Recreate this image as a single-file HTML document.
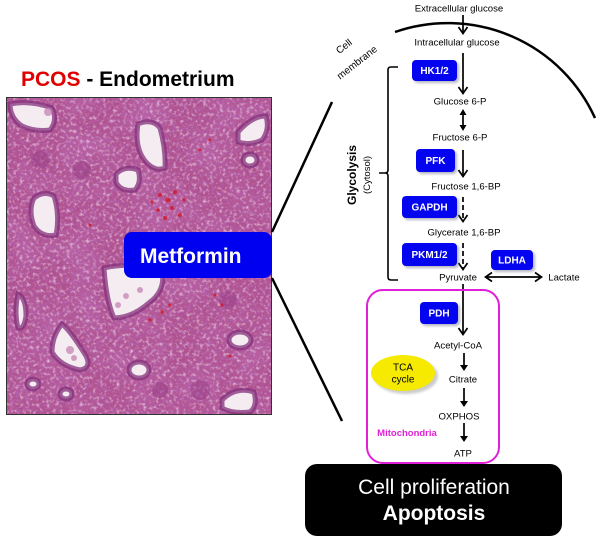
<!DOCTYPE html>
<html>
<head>
<meta charset="utf-8">
<style>
  html,body{margin:0;padding:0;background:#fff;}
  svg{display:block;}
  text{font-family:"Liberation Sans", Arial, sans-serif;}
</style>
</head>
<body>
<svg width="600" height="540" viewBox="0 0 600 540" xmlns="http://www.w3.org/2000/svg">
  <defs>
    <filter id="lite" x="0" y="0" width="100%" height="100%">
      <feTurbulence type="fractalNoise" baseFrequency="0.3" numOctaves="2" seed="7"/>
      <feColorMatrix type="matrix" values="0 0 0 0 0.96  0 0 0 0 0.84  0 0 0 0 0.94  1.8 0 0 0 -0.9"/>
    </filter>
    <filter id="dark" x="0" y="0" width="100%" height="100%">
      <feTurbulence type="fractalNoise" baseFrequency="0.26" numOctaves="2" seed="19"/>
      <feColorMatrix type="matrix" values="0 0 0 0 0.45  0 0 0 0 0.12  0 0 0 0 0.45  0 1.9 0 0 -0.82"/>
    </filter>
    <filter id="blot" x="0" y="0" width="100%" height="100%">
      <feTurbulence type="fractalNoise" baseFrequency="0.03" numOctaves="2" seed="4"/>
      <feColorMatrix type="matrix" values="0 0 0 0 0.55  0 0 0 0 0.2  0 0 0 0 0.55  1.6 0 0 0 -0.6"/>
    </filter>
    <filter id="sh" x="-20%" y="-20%" width="140%" height="140%">
      <feGaussianBlur stdDeviation="1.2"/>
    </filter>
    <clipPath id="imgclip"><rect x="6" y="97" width="266" height="318"/></clipPath>
  </defs>

  <!-- Title -->
  <text x="21" y="86" font-size="21" font-weight="bold"><tspan fill="#e00000">PCOS</tspan><tspan fill="#000"> - Endometrium</tspan></text>

  <!-- Histology image -->
  <g clip-path="url(#imgclip)">
    <rect x="6" y="97" width="266" height="318" fill="#b0528f"/>
    <rect x="6" y="97" width="266" height="318" filter="url(#blot)" opacity="0.5"/>
    <rect x="6" y="97" width="266" height="318" filter="url(#dark)"/>
    <rect x="6" y="97" width="266" height="318" filter="url(#lite)"/>
    <g fill="#f5ecf2" stroke="#83307a" stroke-width="5" stroke-opacity="0.75">
      <path d="M10,104 Q30,100 52,108 Q58,120 50,130 Q35,132 22,126 Q10,118 10,104 Z"/>
      <path d="M138,124 Q152,118 160,128 Q166,150 165,168 Q155,172 146,162 Q134,148 138,124 Z"/>
      <path d="M116,174 Q125,165 138,170 Q142,182 135,190 Q120,192 116,182 Z"/>
      <path d="M238,132 Q252,116 266,116 Q270,130 262,140 Q250,146 238,142 Z"/>
      <path d="M34,198 Q44,190 54,196 Q60,215 56,235 Q42,238 34,226 Q28,210 34,198 Z"/>
      <path d="M104,268 Q130,262 162,270 Q166,290 150,302 Q132,318 114,318 Q106,300 104,268 Z"/>
      <path d="M62,324 Q70,330 86,356 Q92,368 80,370 Q60,366 52,352 Q52,336 62,324 Z"/>
      <path d="M18,294 Q26,298 26,316 Q24,330 18,328 Q14,312 18,294 Z"/>
      <ellipse cx="139" cy="370" rx="10" ry="8"/>
      <ellipse cx="240" cy="340" rx="11" ry="8"/>
      <path d="M222,400 Q236,386 254,392 Q258,406 250,412 Q232,414 222,408 Z"/>
      <ellipse cx="33" cy="384" rx="6" ry="5"/>
      <ellipse cx="66" cy="394" rx="6" ry="5"/>
      <ellipse cx="250" cy="160" rx="7" ry="6"/>
    </g>
    <g fill="#9a3f88" opacity="0.55">
      <circle cx="40" cy="160" r="9"/>
      <circle cx="82" cy="170" r="9"/>
      <circle cx="200" cy="390" r="10"/>
      <circle cx="160" cy="390" r="8"/>
      <circle cx="228" cy="300" r="9"/>
    </g>
    <!-- inner shreds -->
    <g fill="#c98ab8" opacity="0.8">
      <circle cx="48" cy="112" r="4"/>
      <circle cx="126" cy="296" r="3"/>
      <circle cx="118" cy="305" r="3"/>
      <circle cx="140" cy="290" r="3"/>
      <circle cx="70" cy="350" r="4"/>
      <circle cx="74" cy="358" r="3"/>
    </g>
    <!-- red speckles -->
    <g fill="#d21a2a" opacity="0.85">
      <circle cx="160" cy="195" r="2"/><circle cx="168" cy="200" r="2.5"/><circle cx="175" cy="192" r="2"/>
      <circle cx="172" cy="208" r="2"/><circle cx="180" cy="215" r="2"/><circle cx="158" cy="210" r="1.8"/>
      <circle cx="165" cy="218" r="2"/><circle cx="184" cy="200" r="1.6"/><circle cx="152" cy="202" r="1.6"/>
      <circle cx="150" cy="320" r="1.8"/><circle cx="162" cy="312" r="1.8"/><circle cx="170" cy="305" r="1.6"/>
      <circle cx="215" cy="295" r="1.5"/><circle cx="222" cy="305" r="1.5"/><circle cx="230" cy="356" r="1.5"/>
      <circle cx="200" cy="150" r="1.5"/><circle cx="210" cy="140" r="1.5"/><circle cx="90" cy="225" r="1.5"/>
    </g>
  </g>
  <rect x="6.5" y="97.5" width="265" height="317" fill="none" stroke="#333" stroke-width="1"/>

  <!-- connecting lines -->
  <line x1="272" y1="232" x2="332" y2="102" stroke="#000" stroke-width="2.5"/>
  <line x1="272" y1="278" x2="342" y2="421" stroke="#000" stroke-width="2.5"/>

  <!-- Metformin box -->
  <rect x="124" y="232" width="148" height="46" rx="8" fill="#0000f0"/>
  <text x="140" y="263" font-size="21" font-weight="bold" fill="#fff">Metformin</text>

  <!-- Cell membrane arc -->
  <path d="M395,32 A161.6,161.6 0 0 1 595,118" fill="none" stroke="#000" stroke-width="2.5"/>
  <text transform="translate(346,49) rotate(-38)" font-size="10" text-anchor="middle" fill="#000">Cell</text>
  <text transform="translate(359,65) rotate(-38)" font-size="10" text-anchor="middle" fill="#000">membrane</text>

  <!-- Bracket -->
  <path d="M398,67 L391,67 Q388,67 388,70 L388,170 Q388,173 385,173 L379,173 M385,173 Q388,173 388,176 L388,277 Q388,280 391,280 L398,280" fill="none" stroke="#000" stroke-width="1.6"/>
  <text transform="translate(356,175) rotate(-90)" font-size="12" font-weight="bold" text-anchor="middle" fill="#000">Glycolysis</text>
  <text transform="translate(370,175) rotate(-90)" font-size="9.5" text-anchor="middle" fill="#000">(Cytosol)</text>

  <!-- pathway labels -->
  <g font-size="9.6" fill="#000" text-anchor="middle">
    <text x="459" y="11.5">Extracellular  glucose</text>
    <text x="457" y="45.5">Intracellular  glucose</text>
    <text x="460" y="104.5">Glucose  6-P</text>
    <text x="460" y="140.5">Fructose  6-P</text>
    <text x="466" y="189.5">Fructose  1,6-BP</text>
    <text x="464" y="235.5">Glycerate  1,6-BP</text>
    <text x="458" y="280.5">Pyruvate</text>
    <text x="564" y="280.5">Lactate</text>
    <text x="458" y="348.5">Acetyl-CoA</text>
    <text x="463" y="382.5">Citrate</text>
    <text x="459" y="419.5">OXPHOS</text>
    <text x="463" y="456.5">ATP</text>
  </g>

  <!-- arrows -->
  <g stroke="#000" stroke-width="1.7" fill="none">
    <line x1="463" y1="15" x2="463" y2="33"/>
    <polyline points="458.5,27 463,33.5 467.5,27"/>
    <line x1="463" y1="53" x2="463" y2="93"/>
    <polyline points="458.5,87 463,93.5 467.5,87"/>
    <line x1="463" y1="113" x2="463" y2="128"/>
    <line x1="463" y1="150" x2="463" y2="176"/>
    <polyline points="458.5,170 463,176.5 467.5,170"/>
    <line x1="463" y1="197" x2="463" y2="221" stroke-dasharray="5,3"/>
    <polyline points="458.5,215 463,221.5 467.5,215"/>
    <line x1="463" y1="243" x2="463" y2="269" stroke-dasharray="5,3"/>
    <polyline points="458.5,263 463,269.5 467.5,263"/>
    <line x1="463" y1="284" x2="463" y2="334"/>
    <polyline points="458.5,328 463,334.5 467.5,328"/>
    <line x1="486" y1="277" x2="541" y2="277"/>
    <polyline points="492,272.5 485.5,277 492,281.5"/>
    <polyline points="535,272.5 541.5,277 535,281.5"/>
    <line x1="464" y1="353" x2="464" y2="366"/>
    <line x1="464" y1="388" x2="464" y2="402"/>
    <line x1="464" y1="423" x2="464" y2="437"/>
  </g>
  <g fill="#000">
    <polygon points="459.5,115 463,109 466.5,115"/>
    <polygon points="459.5,125 463,131 466.5,125"/>
    <polygon points="460,365 464,371 468,365"/>
    <polygon points="460,401 464,407 468,401"/>
    <polygon points="460,436 464,442 468,436"/>
  </g>

  <!-- enzyme boxes -->
  <g fill="#7a7a90" opacity="0.55" filter="url(#sh)">
    <rect x="414" y="62" width="45" height="21" rx="4"/>
    <rect x="418" y="151" width="39" height="23" rx="4"/>
    <rect x="404" y="198" width="55" height="22" rx="4"/>
    <rect x="404" y="245" width="55" height="23" rx="4"/>
    <rect x="493" y="252" width="42" height="20" rx="4"/>
    <rect x="422" y="304" width="38" height="22" rx="4"/>
  </g>
  <g fill="#0404f0">
    <rect x="412" y="60" width="45" height="21" rx="4"/>
    <rect x="416" y="149" width="39" height="23" rx="4"/>
    <rect x="402" y="196" width="55" height="22" rx="4"/>
    <rect x="402" y="243" width="55" height="23" rx="4"/>
    <rect x="491" y="250" width="42" height="20" rx="4"/>
    <rect x="420" y="302" width="38" height="22" rx="4"/>
  </g>
  <g fill="#fff" font-size="10" font-weight="bold" text-anchor="middle">
    <text x="434.5" y="74">HK1/2</text>
    <text x="435.5" y="164">PFK</text>
    <text x="429.5" y="210.5">GAPDH</text>
    <text x="429.5" y="258">PKM1/2</text>
    <text x="512" y="263.5">LDHA</text>
    <text x="439" y="316.5">PDH</text>
  </g>

  <!-- Mitochondria -->
  <rect x="367" y="290" width="132" height="173" rx="16" fill="none" stroke="#e020d8" stroke-width="2"/>
  <text x="407" y="436" font-size="9.5" font-weight="bold" fill="#e020d8" text-anchor="middle">Mitochondria</text>

  <!-- TCA cycle -->
  <ellipse cx="406" cy="376" rx="32" ry="18" fill="#999" opacity="0.5" filter="url(#sh)"/>
  <ellipse cx="403" cy="373" rx="32" ry="18" fill="#f5ea00"/>
  <text x="403" y="370.5" font-size="10" text-anchor="middle" fill="#000">TCA</text>
  <text x="403" y="382.5" font-size="10" text-anchor="middle" fill="#000">cycle</text>

  <!-- Black box -->
  <rect x="305" y="464" width="257" height="72" rx="12" fill="#000"/>
  <text x="434" y="494" font-size="21" fill="#fff" text-anchor="middle">Cell proliferation</text>
  <text x="434" y="520" font-size="21" font-weight="bold" fill="#fff" text-anchor="middle">Apoptosis</text>
</svg>
</body>
</html>
